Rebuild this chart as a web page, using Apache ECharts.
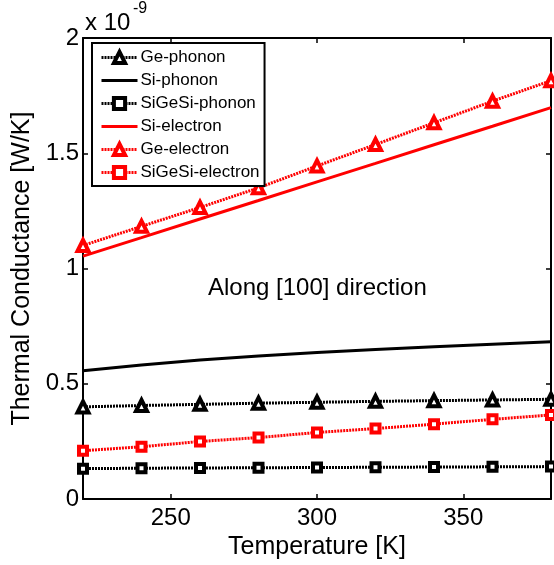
<!DOCTYPE html>
<html>
<head>
    <meta charset="utf-8">
    <title>Thermal Conductance</title>
    <style>
        html, body { margin: 0; padding: 0; background: #fff; }
        #chart { width: 554px; height: 565px; }
    </style>
</head>
<body>
    <div id="chart"></div>
    <script src="https://cdn.jsdelivr.net/npm/echarts@6/dist/echarts.min.js"></script>
    <script type="text/javascript">

// values in units of 1e-9 W/K
var temps = [220, 240, 260, 280, 300, 320, 340, 360, 380];
var gePhonon = [0.400, 0.406, 0.411, 0.416, 0.420, 0.424, 0.427, 0.430, 0.433];
var siPhonon = [0.557, 0.582, 0.603, 0.621, 0.636, 0.649, 0.661, 0.672, 0.682];
var sigesiPhonon = [0.132, 0.134, 0.135, 0.136, 0.137, 0.138, 0.139, 0.140, 0.141];
var siElectron = [1.054, 1.134, 1.215, 1.295, 1.376, 1.456, 1.537, 1.617, 1.698];
var geElectron = [1.100, 1.183, 1.265, 1.350, 1.445, 1.538, 1.632, 1.726, 1.815];
var sigesiElectron = [0.210, 0.227, 0.250, 0.267, 0.289, 0.306, 0.325, 0.346, 0.365];

var xTicks = [250, 300, 350];
var seriesNames = ['Ge-phonon', 'Si-phonon', 'SiGeSi-phonon', 'Si-electron', 'Ge-electron', 'SiGeSi-electron'];

var font = 'Liberation Sans, Arial, sans-serif';

function pairs(ys) {
    return temps.map(function (t, i) { return [t, ys[i]]; });
}

function mkSeries(name, ys, color, symbol, dotted) {
    var s = {
        name: name,
        type: 'line',
        data: pairs(ys),
        clip: false,
        lineStyle: { color: color, width: 3, type: dotted ? [2, 1] : 'solid' },
        emphasis: { disabled: true }
    };
    if (symbol) {
        s.symbol = symbol;
        s.symbolSize = symbol === 'triangle' ? 11 : 8;
        s.showAllSymbol = true;
        s.itemStyle = { color: '#fff', borderColor: color, borderWidth: 4 };
    } else {
        // no markers, and keep the legend icon a bare line
        s.symbol = 'none';
        s.itemStyle = { color: 'rgba(0,0,0,0)', borderWidth: 0, opacity: 0 };
    }
    return s;
}

var myChart = echarts.init(document.getElementById('chart'));

myChart.setOption({
    animation: false,
    textStyle: { fontFamily: font, color: '#000' },
    grid: { left: 83, right: 3, top: 38, bottom: 61 },
    legend: {
        data: seriesNames,
        orient: 'vertical',
        left: 92,
        top: 43,
        padding: [6, 5, 5, 8],
        itemWidth: 36,
        itemHeight: 14,
        itemGap: 6,
        borderColor: '#000',
        borderWidth: 2,
        borderRadius: 0,
        backgroundColor: '#fff',
        selectedMode: false,
        lineStyle: { width: 3 },
        itemStyle: { borderWidth: 4 },
        textStyle: { fontFamily: font, fontSize: 17, color: '#000', padding: [0, 0, 0, -2], lineHeight: 17 }
    },
    xAxis: [
        {
            type: 'value',
            min: 220,
            max: 380,
            position: 'bottom',
            name: 'Temperature [K]',
            nameLocation: 'middle',
            nameGap: 30,
            nameTextStyle: { fontFamily: font, fontSize: 25, color: '#000' },
            axisLine: { show: true, onZero: false, lineStyle: { color: '#000', width: 2 } },
            axisTick: { show: true, inside: true, length: 5, lineStyle: { color: '#000', width: 1.5 }, customValues: xTicks },
            axisLabel: { fontFamily: font, fontSize: 24, color: '#000', margin: 7, customValues: xTicks },
            splitLine: { show: false }
        },
        {
            type: 'value',
            min: 220,
            max: 380,
            position: 'top',
            axisLine: { show: true, onZero: false, lineStyle: { color: '#000', width: 2 } },
            axisTick: { show: true, inside: true, length: 5, lineStyle: { color: '#000', width: 1.5 }, customValues: xTicks },
            axisLabel: { show: false },
            splitLine: { show: false }
        }
    ],
    yAxis: [
        {
            type: 'value',
            min: 0,
            max: 2,
            interval: 0.5,
            position: 'left',
            name: 'Thermal Conductance [W/K]',
            nameLocation: 'middle',
            nameGap: 44,
            nameTextStyle: { fontFamily: font, fontSize: 25, color: '#000' },
            axisLine: { show: true, onZero: false, lineStyle: { color: '#000', width: 2 } },
            axisTick: { show: true, inside: true, length: 5, lineStyle: { color: '#000', width: 1.5 } },
            axisLabel: { fontFamily: font, fontSize: 24, color: '#000', margin: 4 },
            splitLine: { show: false }
        },
        {
            type: 'value',
            min: 0,
            max: 2,
            interval: 0.5,
            position: 'right',
            axisLine: { show: true, onZero: false, lineStyle: { color: '#000', width: 2 } },
            axisTick: { show: true, inside: true, length: 5, lineStyle: { color: '#000', width: 1.5 } },
            axisLabel: { show: false },
            splitLine: { show: false }
        }
    ],
    graphic: [
        {
            type: 'text',
            left: 85,
            top: 11,
            style: { text: 'x 10', font: '24px ' + font, fill: '#000' }
        },
        {
            type: 'text',
            left: 133,
            top: 1,
            style: { text: '-9', font: '16px ' + font, fill: '#000' }
        },
        {
            type: 'text',
            left: 208,
            top: 276,
            style: { text: 'Along [100] direction', font: '24px ' + font, fill: '#000' }
        }
    ],
    series: [
        mkSeries('Ge-phonon', gePhonon, '#000', 'triangle', true),
        mkSeries('Si-phonon', siPhonon, '#000', null, false),
        mkSeries('SiGeSi-phonon', sigesiPhonon, '#000', 'rect', true),
        mkSeries('Si-electron', siElectron, '#ff0000', null, false),
        mkSeries('Ge-electron', geElectron, '#ff0000', 'triangle', true),
        mkSeries('SiGeSi-electron', sigesiElectron, '#ff0000', 'rect', true)
    ]
});

    </script>
</body>
</html>
